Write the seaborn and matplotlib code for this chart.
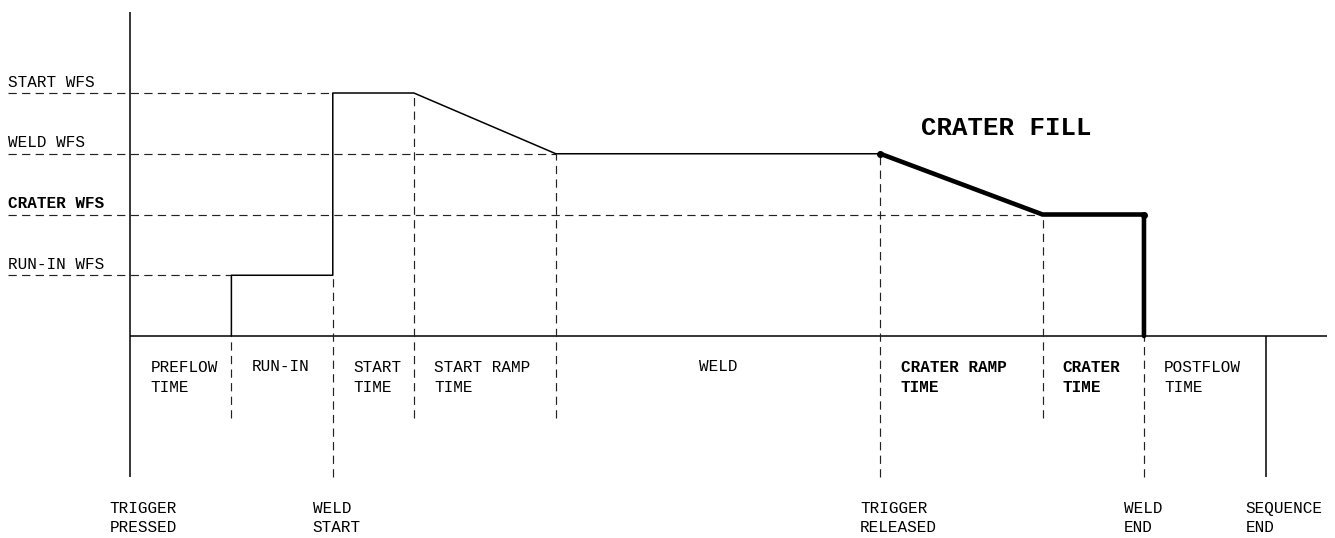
import numpy as np
import pandas as pd
import matplotlib
matplotlib.use("Agg")
import matplotlib.pyplot as plt
import seaborn as sns

# event times (arbitrary time units) along the weld sequence
t_trigger_pressed = 0.0
t_runin_start = 1.0
t_weld_start = 2.0
t_start_end = 2.8
t_ramp_end = 4.2
t_trigger_released = 7.4
t_crater_ramp_end = 9.0
t_weld_end = 10.0
t_sequence_end = 11.2

# wire feed speed levels
wfs_levels = ["START WFS", "WELD WFS", "CRATER WFS", "RUN-IN WFS"]
wfs_values = [4.0, 3.0, 2.0, 1.0]
wfs_dash_end = [t_weld_start, t_ramp_end, t_crater_ramp_end, t_runin_start]
wfs_bold = [False, False, True, False]
RUNIN, CRATER, WELD, START = 1.0, 2.0, 3.0, 4.0

# wfs profile before trigger release
profile_t = [t_runin_start, t_runin_start, t_weld_start, t_weld_start,
             t_start_end, t_ramp_end, t_trigger_released]
profile_w = [0.0, RUNIN, RUNIN, START, START, WELD, WELD]

# crater fill part (bold)
crater_t = [t_trigger_released, t_crater_ramp_end, t_weld_end, t_weld_end]
crater_w = [WELD, CRATER, CRATER, 0.0]

# phase labels below the time axis
phase_labels = ["PREFLOW\nTIME", "RUN-IN", "START\nTIME", "START RAMP\nTIME",
                "WELD", "CRATER RAMP\nTIME", "CRATER\nTIME", "POSTFLOW\nTIME"]
phase_start = [t_trigger_pressed, t_runin_start, t_weld_start, t_start_end,
               t_ramp_end, t_trigger_released, t_crater_ramp_end, t_weld_end]
phase_end = [t_runin_start, t_weld_start, t_start_end, t_ramp_end,
             t_trigger_released, t_crater_ramp_end, t_weld_end, t_sequence_end]
phase_bold = [False, False, False, False, False, True, True, False]

# event labels at the bottom
event_labels = ["TRIGGER\nPRESSED", "WELD\nSTART", "TRIGGER\nRELEASED",
                "WELD\nEND", "SEQUENCE\nEND"]
event_t = [t_trigger_pressed, t_weld_start, t_trigger_released,
           t_weld_end, t_sequence_end]

# phase boundaries: dashed line top, and whether it goes down to the bottom
bound_t = [t_runin_start, t_weld_start, t_start_end, t_ramp_end,
           t_trigger_released, t_crater_ramp_end, t_weld_end]
bound_top = [0.0, RUNIN, START, WELD, WELD, CRATER, 0.0]
bound_long = [False, True, False, False, True, False, True]

sns.set_style("white")
plt.rcParams["font.family"] = ["Liberation Mono", "DejaVu Sans Mono"]
plt.rcParams["text.color"] = "black"

fig = plt.figure(figsize=(13.35, 5.38), dpi=100)
ax = fig.add_axes([0, 0, 1, 1])
ax.set_xlim(-1.282, 11.884)
ax.set_ylim(-3.325, 5.531)
ax.axis("off")

y_axis_top = 5.33
y_long = -2.32
y_short = -1.35
x_label = -1.203
dash = (0, (7, 4.5))

# axes of the diagram
ax.vlines(t_trigger_pressed, y_long, y_axis_top, color="black", lw=1.1)
ax.hlines(0.0, t_trigger_pressed, 11.81, color="black", lw=1.1)
ax.vlines(t_sequence_end, y_long, 0.0, color="black", lw=1.1)

# horizontal guides for each wfs level
for name, val, end, bold in zip(wfs_levels, wfs_values, wfs_dash_end, wfs_bold):
    ax.hlines(val, x_label, end, color="#222222", lw=0.85, linestyle=dash)
    ax.text(x_label, val + 0.18, name, ha="left", va="center", fontsize=11.5,
            fontweight="bold" if bold else "normal")

# vertical guides at each phase boundary
for t, top, long in zip(bound_t, bound_top, bound_long):
    ax.vlines(t, y_long if long else y_short, top, color="#222222", lw=0.85,
              linestyle=dash)

# wfs profile
df_profile = pd.DataFrame({"t": profile_t, "wfs": profile_w})
sns.lineplot(data=df_profile, x="t", y="wfs", sort=False, estimator=None,
             color="black", lw=1.1, ax=ax)

# crater fill (thick)
df_crater = pd.DataFrame({"t": crater_t, "wfs": crater_w})
sns.lineplot(data=df_crater, x="t", y="wfs", sort=False, estimator=None,
             color="black", lw=3.3, ax=ax, solid_capstyle="round",
             solid_joinstyle="round")
ax.plot(crater_t[0], crater_w[0], "o", color="black", ms=4)
ax.plot(crater_t[2], crater_w[2], "o", color="black", ms=4)

ax.text(8.64, 3.42, "CRATER FILL", ha="center", va="center", fontsize=18.5,
        fontweight="bold")

# phase labels
for lab, t0, t1, bold in zip(phase_labels, phase_start, phase_end, phase_bold):
    if "\n" in lab:
        ax.text(t0 + 0.2, -0.683, lab, ha="left", va="center", fontsize=11.5,
                linespacing=1.35, fontweight="bold" if bold else "normal")
    else:
        x = (t0 + t1) / 2 if lab == "WELD" else t0 + 0.2
        ax.text(x, -0.51, lab, ha="center" if lab == "WELD" else "left",
                va="center", fontsize=11.5)

# event labels
for lab, t in zip(event_labels, event_t):
    ax.text(t - 0.2, -3.0, lab, ha="left", va="center", fontsize=11.5,
            linespacing=1.35)

fig.savefig("out.png", dpi=100)
